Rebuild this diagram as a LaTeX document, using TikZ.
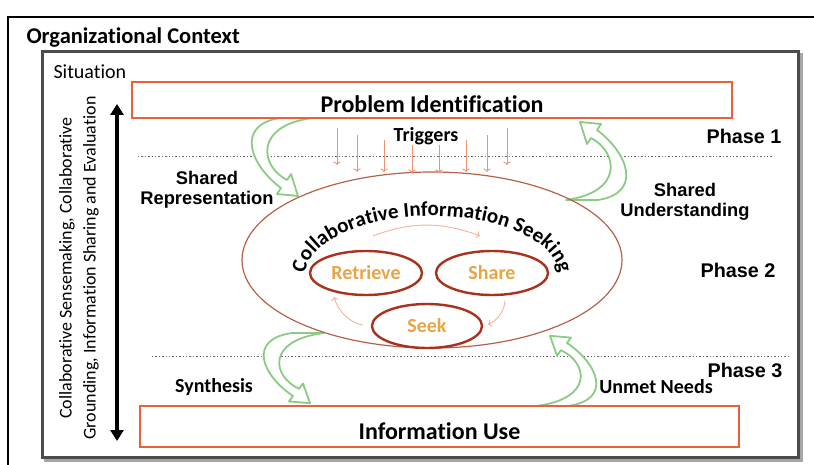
\documentclass[tikz,border=0pt]{standalone}
\usepackage{fontspec}
\setmainfont{Carlito}[Ligatures=NoCommon]
\newfontfamily\arialfont{Liberation Sans}
\usepackage{tikz}
\usetikzlibrary{positioning,calc,shapes.geometric,arrows.meta,decorations.text}

\definecolor{boxred}{HTML}{E8603C}
\definecolor{ovalline}{HTML}{B8614A}
\definecolor{actred}{HTML}{A8321E}
\definecolor{actgold}{HTML}{E9A443}
\definecolor{trigcol}{HTML}{EE9473}
\definecolor{cyccol}{HTML}{F2B49C}
\definecolor{arrgreen}{HTML}{8CCB84}

\tikzset{
  redbox/.style={draw=boxred, line width=2.5pt, rectangle, inner sep=0,
    text height=25pt, text depth=0pt,
    font=\bfseries\fontsize{24}{26}\selectfont},
  actoval/.style={draw=actred, line width=2.4pt, ellipse, inner sep=0,
    minimum width=112, minimum height=44, text=actgold,
    font=\bfseries\fontsize{20}{22}\selectfont},
  phase/.style={font=\arialfont\bfseries\fontsize{19.8}{22}\selectfont},
  sidelbl/.style={align=center, font=\arialfont\bfseries\fontsize{18.3}{20.5}\selectfont},
  steplbl/.style={font=\bfseries\fontsize{20}{22}\selectfont},
  dotline/.style={draw=black!60, line width=0.8pt, dash pattern=on 1.4pt off 2pt},
  trig/.style={draw=trigcol, line width=0.9pt, ->},
  cyc/.style={draw=cyccol, line width=0.9pt, ->},
  greenarr/.style={draw=arrgreen, line width=1.8pt, fill=white, line join=round},
  bendarrow/.pic={
    \draw[greenarr] (-16,0) .. controls (-61,7) and (-46,47) .. (-15,70)
      -- (-19,76) -- (2,78) -- (-5,56) -- (-9,62)
      .. controls (-36,48) and (-42,8) .. (16,0) -- cycle;
  }
}

\begin{document}
\begin{tikzpicture}[x=1pt,y=-1pt]
\useasboundingbox (0,0) rectangle (814,465);

% frames
\draw[line width=1.5pt] (8,465) -- (8,17) -- (814,17);
\draw[black!35, line width=3pt] (45,55) rectangle (801,460);
\draw[black!70, line width=3pt, fill=white] (42,52) rectangle (798,457);
\node[anchor=west, font=\bfseries\fontsize{22.5}{24}\selectfont] (org) at (23,38) {Organizational Context};
\node[anchor=west, font=\fontsize{20}{22}\selectfont] (sit) at (50,72) {Situation};

% phase borders
\draw[dotline] (138,156) -- (773,156);
\draw[dotline] (152,356) -- (790,356);

% green curved arrows
\pic at (296,118) {bendarrow};
\pic[rotate=180] at (582,200) {bendarrow};
\pic[yscale=0.9] at (308,333) {bendarrow};
\pic[rotate=180, yscale=0.9] at (552,406) {bendarrow};

% boxes
\node[redbox, minimum width=600, minimum height=36] (prob) at (432,100) {Problem Identification};
\node[redbox, minimum width=599, minimum height=41] (use) at (439.5,426.5) {Information Use};

% seeking oval
\node[draw=ovalline, line width=1.2pt, ellipse, inner sep=0,
  minimum width=380, minimum height=176] (cis) at (432,260) {};
\path[decorate, decoration={text along path, text align=center,
  text={|\bfseries\fontsize{21}{23}\selectfont|Collaborative Information Seeking}}]
  (305,276) arc[start angle=180, end angle=360, x radius=127, y radius=60];

\node[actoval] (ret) at (366,273) {Retrieve};
\node[actoval] (sha) at (492,273) {Share};
\node[actoval, minimum width=110] (seek) at (427,326) {Seek};

\draw[cyc] ($(ret.north)+(7,-14)$) to[bend left=20] ($(sha.north)+(-12,-14)$);
\draw[cyc, shorten <=5pt, shorten >=5pt] (sha.-60) to[bend left=35] (seek.east);
\draw[cyc, shorten <=8pt, shorten >=5pt] (seek.west) to[bend left=35] (ret.-150);

% triggers
\node[steplbl] (trg) at (426,136) {Triggers};
\foreach \x/\a/\b [count=\i] in {337/128/165,357/135/172,384/140/172,412/145/173,
    439/145/173,466/140/172,487/135/172,507/128/165} {
  \coordinate (tt\i) at (\x,\a);
  \coordinate (tb\i) at (\x,\b);
  \draw[trig] (tt\i) -- (tb\i);
}

% labels
\node[phase] (ph1) at (744,136) {Phase 1};
\node[phase] (ph2) at (738,270) {Phase 2};
\node[phase] (ph3) at (745,370) {Phase 3};
\node[sidelbl] (shrep) at (207,190) {Shared\\Representation};
\node[sidelbl] (shund) at (685,202) {Shared\\Understanding};
\node[steplbl] (syn) at (214,387) {Synthesis};
\node[steplbl] (unmet) at (656,387) {Unmet Needs};

% side axis
\coordinate (axtop) at (117,104);
\coordinate (axbot) at (117,441);
\draw[line width=4pt, {Triangle[length=11pt,width=13pt]}-{Triangle[length=11pt,width=13pt]}] (axtop) -- (axbot);
\node[rotate=90, align=center, font=\fontsize{18}{24}\selectfont] (sense) at (79,268)
  {Collaborative Sensemaking, Collaborative\\Grounding, Information Sharing and Evaluation};
\end{tikzpicture}
\end{document}
